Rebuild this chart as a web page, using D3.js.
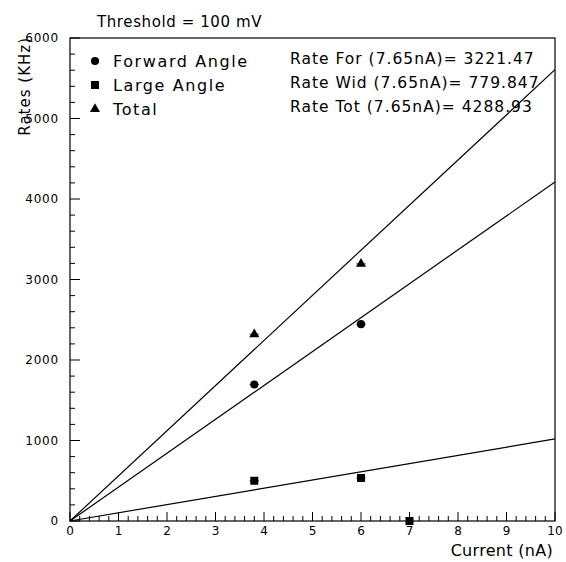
<!DOCTYPE html>
<html>
<head>
<meta charset="utf-8">
<script src="https://cdn.jsdelivr.net/npm/d3@7"></script>
<style>
  html, body { margin: 0; padding: 0; background: #fff; }
  svg { display: block; font-family: "DejaVu Sans", Verdana, sans-serif; }
</style>
</head>
<body>
<svg id="chart" width="566" height="562"></svg>
<script>
// --- data ---
const forwardCurrent = [3.8, 6.0];
const forwardRate    = [1695, 2445];
const largeCurrent   = [3.8, 6.0, 7.0];
const largeRate      = [500, 535, 0];
const totalCurrent   = [3.8, 6.0];
const totalRate      = [2320, 3195];
const currentErr     = 0.1;

// linear fits through the origin, quoted at 7.65 nA
const fitCurrent = 7.65;
const fitNames   = ["For", "Wid", "Tot"];
const fitRates   = [3221.47, 779.847, 4288.93];

const legendNames = ["Forward Angle", "Large Angle", "Total"];
const xTicks = d3.range(0, 11, 1);
const yTicks = d3.range(0, 7000, 1000);

// --- layout ---
const svg = d3.select("#chart");
const x = d3.scaleLinear().domain([0, 10]).range([70, 555]);
const y = d3.scaleLinear().domain([0, 6000]).range([521, 38]);
const ink = "#000";

svg.append("rect").attr("width", 566).attr("height", 562).attr("fill", "#fff");

// frame
svg.append("rect")
  .attr("x", x(0)).attr("y", y(6000))
  .attr("width", x(10) - x(0)).attr("height", y(0) - y(6000))
  .attr("fill", "none").attr("stroke", ink).attr("stroke-width", 1.2);

// y ticks (inward)
d3.range(0, 6001, 200).forEach(v => {
  const major = v % 1000 === 0;
  svg.append("line")
    .attr("x1", x(0)).attr("x2", x(0) + (major ? 10 : 5))
    .attr("y1", y(v)).attr("y2", y(v))
    .attr("stroke", ink).attr("stroke-width", 1);
});
svg.selectAll(".ylab").data(yTicks).join("text")
  .attr("x", 59).attr("y", d => y(d) + 4)
  .attr("text-anchor", "end").attr("font-size", 12)
  .attr("letter-spacing", 0.8).text(d => d);

// x ticks (inward)
d3.range(0, 10.001, 0.2).forEach(v => {
  const major = Math.abs(v - Math.round(v)) < 1e-6;
  svg.append("line")
    .attr("x1", x(v)).attr("x2", x(v))
    .attr("y1", y(0)).attr("y2", y(0) - (major ? 9 : 5))
    .attr("stroke", ink).attr("stroke-width", 1);
});
svg.selectAll(".xlab").data(xTicks).join("text")
  .attr("x", d => x(d)).attr("y", 535)
  .attr("text-anchor", "middle").attr("font-size", 12).text(d => d);

// axis titles
svg.append("text").attr("x", 97).attr("y", 27)
  .attr("font-size", 15).attr("letter-spacing", 0.6).text("Threshold = 100 mV");
svg.append("text").attr("x", 553).attr("y", 556)
  .attr("text-anchor", "end").attr("font-size", 16)
  .attr("letter-spacing", 0.3).text("Current (nA)");
svg.append("text")
  .attr("transform", "translate(30,37) rotate(-90)")
  .attr("text-anchor", "end").attr("font-size", 15)
  .attr("letter-spacing", 1).text("Rates (KHz)");

// fit lines
const plot = svg.append("g");
fitRates.forEach(r => {
  const slope = r / fitCurrent;
  plot.append("line")
    .attr("x1", x(0)).attr("y1", y(0))
    .attr("x2", x(10)).attr("y2", y(slope * 10))
    .attr("stroke", ink).attr("stroke-width", 1.2);
});

// markers
const sym = {
  circle: d3.symbol(d3.symbolCircle, 52),
  square: d3.symbol(d3.symbolSquare, 64),
  triangle: d3.symbol(d3.symbolTriangle, 44)
};
const series = [
  { xs: forwardCurrent, ys: forwardRate, s: sym.circle },
  { xs: largeCurrent,   ys: largeRate,   s: sym.square },
  { xs: totalCurrent,   ys: totalRate,   s: sym.triangle }
];
series.forEach(sr => {
  sr.xs.forEach((cx, i) => {
    plot.append("line")
      .attr("x1", x(cx - currentErr)).attr("x2", x(cx + currentErr))
      .attr("y1", y(sr.ys[i])).attr("y2", y(sr.ys[i]))
      .attr("stroke", "#555").attr("stroke-width", 1);
    plot.append("path")
      .attr("d", sr.s())
      .attr("transform", `translate(${x(cx)},${y(sr.ys[i])})`)
      .attr("fill", ink);
  });
});

// legend
legendNames.forEach((name, i) => {
  const ly = 61 + i * 24;
  svg.append("path").attr("d", series[i].s())
    .attr("transform", `translate(95,${ly})`).attr("fill", ink);
  svg.append("text").attr("x", 113).attr("y", ly + 6)
    .attr("font-size", 16).attr("letter-spacing", 1.6).text(name);
});

// fit values
fitNames.forEach((n, i) => {
  svg.append("text").attr("x", 290).attr("y", 64 + i * 24)
    .attr("font-size", 15.5).attr("letter-spacing", 1)
    .text(`Rate ${n} (${fitCurrent}nA)= ${fitRates[i]}`);
});
</script>
</body>
</html>
